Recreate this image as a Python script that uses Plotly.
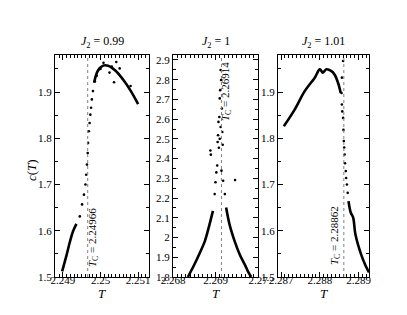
import plotly.graph_objects as go

# ---------------- data ----------------
titles = ["<i>J</i><sub>2</sub> = 0.99", "<i>J</i><sub>2</sub> = 1", "<i>J</i><sub>2</sub> = 1.01"]
tc_values = [2.24966, 2.26914, 2.28862]
tc_labels = ["<i>T</i><sub>C</sub> = 2.24966", "<i>T</i><sub>C</sub> = 2.26914", "<i>T</i><sub>C</sub> = 2.28862"]

# panel 1 (J2 = 0.99)
p1_dense_T = [2.24898, 2.24909, 2.24918, 2.24927, 2.24936]
p1_dense_c = [1.512, 1.545, 1.574, 1.599, 1.615]
p1_dense2_T = [2.24983, 2.24993, 2.25007, 2.25020, 2.25040, 2.25060, 2.25080, 2.25100]
p1_dense2_c = [1.920, 1.946, 1.957, 1.957, 1.946, 1.927, 1.903, 1.874]
p1_dots_T = [2.24945, 2.24951, 2.24956, 2.24960, 2.24962, 2.24964, 2.24966, 2.24967,
             2.24969, 2.24971, 2.24973, 2.24975, 2.24977, 2.24980, 2.24985, 2.25008,
             2.25042, 2.25051, 2.25036, 2.25080, 2.25024, 2.24990, 2.25000, 2.25030]
p1_dots_c = [1.631, 1.657, 1.678, 1.700, 1.721, 1.743, 1.768, 1.790,
             1.815, 1.833, 1.851, 1.866, 1.884, 1.902, 1.923, 1.963,
             1.965, 1.951, 1.921, 1.913, 1.942, 1.935, 1.950, 1.955]

# panel 2 (J2 = 1)
p2_left_T = [2.26835, 2.26850, 2.26863, 2.26875, 2.26886, 2.26894]
p2_left_c = [1.800, 1.862, 1.922, 1.982, 2.067, 2.135]
p2_right_T = [2.26925, 2.26933, 2.26945, 2.26957, 2.26969, 2.26976, 2.26984]
p2_right_c = [2.152, 2.067, 1.982, 1.914, 1.863, 1.830, 1.800]
p2_dots_T = [2.26898, 2.26900, 2.26902, 2.26904, 2.26914, 2.26918, 2.26922, 2.26946,
             2.26888, 2.26889, 2.26912, 2.26913, 2.26911, 2.26910, 2.26915, 2.26909,
             2.26907, 2.26912, 2.26916, 2.26906, 2.26910, 2.26905, 2.26917, 2.26908]
p2_dots_c = [2.220, 2.280, 2.330, 2.365, 2.339, 2.288, 2.220, 2.291,
             2.441, 2.420, 2.849, 2.798, 2.747, 2.705, 2.654, 2.611,
             2.586, 2.560, 2.535, 2.518, 2.500, 2.484, 2.470, 2.455]

# panel 3 (J2 = 1.01)
p3_left_T = [2.28707, 2.28735, 2.28761, 2.28787, 2.28800, 2.28808, 2.28817, 2.28830, 2.28838, 2.28847, 2.28854]
p3_left_c = [1.826, 1.862, 1.902, 1.931, 1.949, 1.942, 1.949, 1.945, 1.938, 1.920, 1.898]
p3_right_T = [2.28874, 2.28880, 2.28886, 2.28892, 2.28907, 2.28918, 2.28927]
p3_right_c = [1.664, 1.639, 1.629, 1.592, 1.548, 1.525, 1.510]
p3_dots_T = [2.28857, 2.28858, 2.28860, 2.28861, 2.28862, 2.28863, 2.28864, 2.28865,
             2.28867, 2.28868, 2.28870, 2.28872, 2.28860, 2.28857, 2.28856]
p3_dots_c = [1.873, 1.858, 1.844, 1.818, 1.794, 1.780, 1.765, 1.746,
             1.729, 1.714, 1.700, 1.682, 1.967, 1.931, 1.898]

x_ranges = [[2.24879, 2.25129], [2.268, 2.270], [2.28692, 2.28927]]
y_ranges = [[1.5, 1.98], [1.8, 2.925], [1.5, 1.98]]
x_ticks = [[2.249, 2.250, 2.251], [2.268, 2.269, 2.270], [2.287, 2.288, 2.289]]
x_ticktext = [["2.249", "2.25", "2.251"], ["2.268", "2.269", "2.27"], ["2.287", "2.288", "2.289"]]
y_ticks = [[1.5, 1.6, 1.7, 1.8, 1.9],
           [1.8, 1.9, 2.0, 2.1, 2.2, 2.3, 2.4, 2.5, 2.6, 2.7, 2.8, 2.9],
           [1.5, 1.6, 1.7, 1.8, 1.9]]
y_ticktext = [["1.5", "1.6", "1.7", "1.8", "1.9"],
              ["1.8", "1.9", "2", "2.1", "2.2", "2.3", "2.4", "2.5", "2.6", "2.7", "2.8", "2.9"],
              ["1.5", "1.6", "1.7", "1.8", "1.9"]]

# ---------------- figure ----------------
W, H = 407, 315
FONT = "Liberation Serif"
px_x = [(47, 141), (165, 250), (270, 361)]
px_y = (47, 269)

fig = go.Figure()

panels = [
    ([(p1_dense_T, p1_dense_c), (p1_dense2_T, p1_dense2_c)], (p1_dots_T, p1_dots_c)),
    ([(p2_left_T, p2_left_c), (p2_right_T, p2_right_c)], (p2_dots_T, p2_dots_c)),
    ([(p3_left_T, p3_left_c), (p3_right_T, p3_right_c)], (p3_dots_T, p3_dots_c)),
]

for i, (lines, dots) in enumerate(panels):
    xa = "x" if i == 0 else f"x{i+1}"
    ya = "y" if i == 0 else f"y{i+1}"
    for (tx, cy) in lines:
        fig.add_trace(go.Scatter(x=tx, y=cy, mode="lines", xaxis=xa, yaxis=ya,
                                 line=dict(color="black", width=2.6, shape="spline"),
                                 showlegend=False, hoverinfo="skip"))
    fig.add_trace(go.Scatter(x=dots[0], y=dots[1], mode="markers", xaxis=xa, yaxis=ya,
                             marker=dict(color="black", size=2.6),
                             showlegend=False, hoverinfo="skip"))

for i in range(3):
    sfx = "" if i == 0 else str(i + 1)
    x0, x1 = px_x[i]
    ax_common = dict(showline=True, linecolor="black", linewidth=1, mirror="ticks",
                     ticks="inside", ticklen=5, tickcolor="black", tickwidth=1,
                     showgrid=False, zeroline=False,
                     tickfont=dict(family=FONT, size=11, color="black"))
    fig.update_layout(**{
        f"xaxis{sfx}": dict(domain=[x0 / W, x1 / W], range=x_ranges[i], anchor=f"y{sfx}",
                            tickvals=x_ticks[i], ticktext=x_ticktext[i],
                            ticklabelstandoff=-7,
                            minor=dict(dtick=0.0001, ticks="inside", ticklen=3,
                                       tickcolor="black", showgrid=False),
                            **ax_common),
        f"yaxis{sfx}": dict(domain=[1 - px_y[1] / H, 1 - px_y[0] / H], range=y_ranges[i],
                            anchor=f"x{sfx}",
                            tickvals=y_ticks[i], ticktext=y_ticktext[i],
                            minor=dict(dtick=0.05, ticks="inside", ticklen=3,
                                       tickcolor="black", showgrid=False),
                            **ax_common),
    })
    # Tc dotted line
    fig.add_shape(type="line", x0=tc_values[i], x1=tc_values[i], y0=0, y1=1,
                  xref=f"x{sfx}", yref=f"y{sfx} domain",
                  line=dict(color="gray", width=1, dash="dot"))
    # panel title
    fig.add_annotation(text=titles[i], x=(x0 + x1) / 2 / W, y=1 - 34 / H,
                       xref="paper", yref="paper", showarrow=False,
                       xanchor="center", yanchor="middle",
                       font=dict(family=FONT, size=12, color="black"))
    # T axis label
    fig.add_annotation(text="<i>T</i>", x=(x0 + x1) / 2 / W, y=1 - 285 / H,
                       xref="paper", yref="paper", showarrow=False,
                       xanchor="center", yanchor="middle",
                       font=dict(family=FONT, size=13, color="black"))

# Tc labels
tc_pos = [(85, 230), (218, 84), (327, 228)]
for i in range(3):
    fig.add_annotation(text=tc_labels[i], x=tc_pos[i][0] / W, y=1 - tc_pos[i][1] / H,
                       xref="paper", yref="paper", showarrow=False, textangle=-90,
                       xanchor="center", yanchor="middle",
                       font=dict(family=FONT, size=11, color="black"))

# y axis label
fig.add_annotation(text="<i>c</i>(<i>T</i>)", x=24 / W, y=1 - 162 / H,
                   xref="paper", yref="paper", showarrow=False, textangle=-90,
                   xanchor="center", yanchor="middle",
                   font=dict(family=FONT, size=13, color="black"))

fig.update_layout(width=W, height=H, margin=dict(l=0, r=0, t=0, b=0, autoexpand=False),
                  paper_bgcolor="white", plot_bgcolor="white",
                  font=dict(family=FONT, color="black"))

fig.write_html("out.html")
